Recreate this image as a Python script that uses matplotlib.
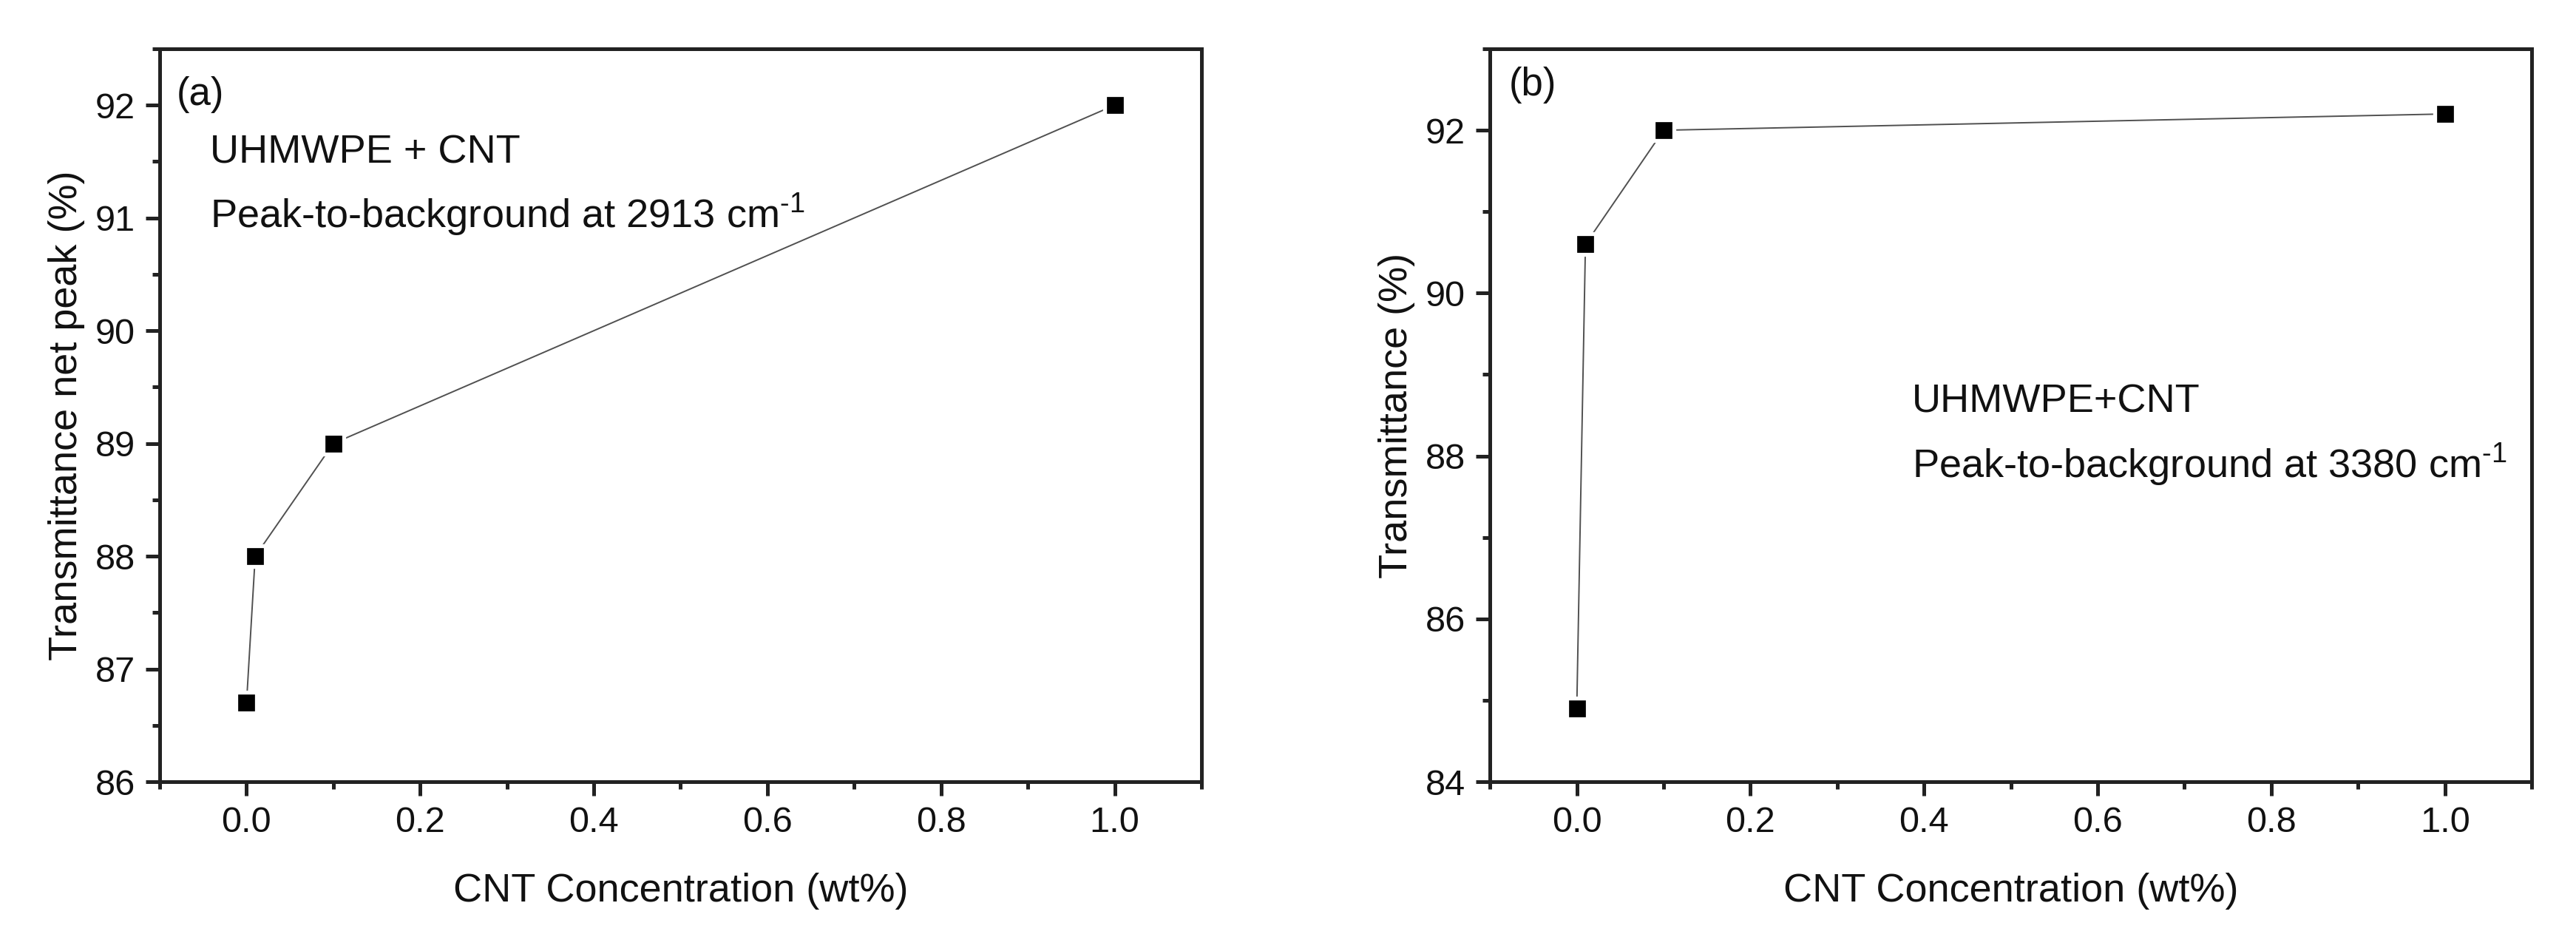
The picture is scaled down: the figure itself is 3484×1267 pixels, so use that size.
import numpy as np
import matplotlib
matplotlib.use("Agg")
import matplotlib.pyplot as plt
from matplotlib.ticker import MultipleLocator

plt.rcParams['font.family'] = ['Liberation Sans', 'DejaVu Sans']
plt.rcParams['mathtext.fontset'] = 'custom'
plt.rcParams['mathtext.rm'] = 'Liberation Sans'
plt.rcParams['mathtext.default'] = 'regular'

# data
cnt_a = [0.0, 0.01, 0.1, 1.0]
trans_net_peak = [86.7, 88.0, 89.0, 92.0]

cnt_b = [0.0, 0.01, 0.1, 1.0]
trans_b = [84.9, 90.6, 92.0, 92.2]

xlabel = "CNT Concentration (wt%)"
ylabel_a = "Transmittance net peak (%)"
ylabel_b = "Transmittance (%)"

fig = plt.figure(figsize=(17.42, 6.335), dpi=200)
ax_a = fig.add_axes([0.062, 0.1657, 0.4044, 0.7822])
ax_b = fig.add_axes([0.5784, 0.1657, 0.4044, 0.7822])

spine_col = '#222222'
txt_col = '#111111'


def style_axes(ax):
    for s in ax.spines.values():
        s.set_linewidth(1.8)
        s.set_color(spine_col)
    ax.tick_params(which='major', direction='out', length=7, width=1.8,
                   labelsize=17.5, pad=5, colors=spine_col, labelcolor=txt_col)
    ax.tick_params(which='minor', direction='out', length=3.5, width=1.8,
                   colors=spine_col)
    ax.set_xlim(-0.1, 1.1)
    ax.xaxis.set_major_locator(MultipleLocator(0.2))
    ax.xaxis.set_minor_locator(MultipleLocator(0.1))
    ax.set_xlabel(xlabel, fontsize=19.5, color=txt_col, labelpad=16)


# panel (a)
ax_a.plot(cnt_a, trans_net_peak, color='#505050', lw=0.7, marker='s',
          ms=10.2, mfc='black', mec='white', mew=1.9, zorder=3)
style_axes(ax_a)
ax_a.set_ylim(86, 92.5)
ax_a.yaxis.set_major_locator(MultipleLocator(1))
ax_a.yaxis.set_minor_locator(MultipleLocator(0.5))
ax_a.set_ylabel(ylabel_a, fontsize=19.5, color=txt_col, labelpad=5)
ax_a.text(0.016, 0.937, "(a)", transform=ax_a.transAxes, fontsize=19,
          va='center', ha='left', color=txt_col)
ax_a.text(0.048, 0.858, "UHMWPE + CNT", transform=ax_a.transAxes, fontsize=19.5,
          va='center', ha='left', color=txt_col)
ax_a.text(0.048, 0.773, "Peak-to-background at 2913 cm$^{\u2010 1}$",
          transform=ax_a.transAxes, fontsize=19.5, va='center', ha='left',
          color=txt_col)

# panel (b)
ax_b.plot(cnt_b, trans_b, color='#505050', lw=0.7, marker='s',
          ms=10.2, mfc='black', mec='white', mew=1.9, zorder=3)
style_axes(ax_b)
ax_b.set_ylim(84, 93)
ax_b.yaxis.set_major_locator(MultipleLocator(2))
ax_b.yaxis.set_minor_locator(MultipleLocator(1))
ax_b.set_ylabel(ylabel_b, fontsize=19.5, color=txt_col, labelpad=5)
ax_b.text(0.018, 0.951, "(b)", transform=ax_b.transAxes, fontsize=19,
          va='center', ha='left', color=txt_col)
ax_b.text(0.405, 0.518, "UHMWPE+CNT", transform=ax_b.transAxes, fontsize=19.5,
          va='center', ha='left', color=txt_col)
ax_b.text(0.405, 0.432, "Peak-to-background at 3380 cm$^{\u2010 1}$",
          transform=ax_b.transAxes, fontsize=19.5, va='center', ha='left',
          color=txt_col)

fig.savefig("out.png", dpi=200, facecolor='white')
